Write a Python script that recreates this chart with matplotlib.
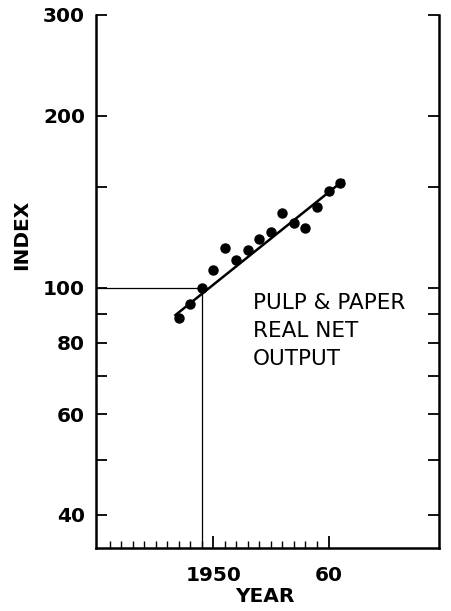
import matplotlib
matplotlib.use("Agg")
import matplotlib.pyplot as plt
from matplotlib.ticker import FixedLocator, NullFormatter, NullLocator

# ---- data ----
years = [1947, 1948, 1949, 1950, 1951, 1952, 1953, 1954, 1955, 1956, 1957, 1958, 1959, 1960, 1961]
index_values = [88.4, 93.6, 100.0, 107.5, 117.5, 111.8, 116.4, 121.7, 125.2, 135.1, 129.8, 126.9, 138.2, 147.3, 152.3]
trend_years = [1946.7, 1961.3]
trend_values = [89.5, 154.0]
base_year = 1949
base_value = 100
ytick_values = [40, 50, 60, 70, 80, 90, 100, 150, 200, 300]
ytick_labels = ["40", "", "60", "", "80", "", "100", "", "200", "300"]
xtick_major = [1950, 1960]
xtick_major_labels = ["1950", "60"]
xtick_minor = list(range(1941, 1961))
annotation = "PULP & PAPER\nREAL NET\nOUTPUT"

W, H = 452, 611
fig = plt.figure(figsize=(W / 100, H / 100), dpi=100)
ax = fig.add_axes([96 / W, 1 - 548 / H, (439 - 96) / W, (548 - 15) / H])

ax.set_yscale("log")
ax.set_ylim(35, 300)
ax.set_xlim(1939.8, 1969.6)

# spines
ax.spines["top"].set_visible(False)
for s in ["left", "right", "bottom"]:
    ax.spines[s].set_linewidth(1.8)
    ax.spines[s].set_color("black")

# y ticks
ax.yaxis.set_major_locator(FixedLocator(ytick_values))
ax.yaxis.set_minor_locator(NullLocator())
ax.set_yticklabels(ytick_labels)
ax.tick_params(axis="y", which="major", direction="in", length=8, width=1.3,
               left=True, right=True, labelleft=True, labelright=False, pad=8,
               labelsize=14.5)

# x ticks
ax.set_xticks(xtick_major)
ax.set_xticklabels(xtick_major_labels)
ax.xaxis.set_minor_locator(FixedLocator([y for y in xtick_minor if y not in xtick_major]))
ax.xaxis.set_minor_formatter(NullFormatter())
ax.tick_params(axis="x", which="major", direction="in", length=9, width=1.3, pad=13,
               labelsize=14.5, top=False)
ax.tick_params(axis="x", which="minor", direction="in", length=5, width=1.0, top=False)

for lab in ax.get_xticklabels() + ax.get_yticklabels():
    lab.set_fontweight("bold")

# reference lines at base year
ax.plot([ax.get_xlim()[0], base_year], [base_value, base_value], color="black", lw=0.9,
        solid_capstyle="butt")
ax.plot([base_year, base_year], [ax.get_ylim()[0], base_value], color="black", lw=0.9,
        solid_capstyle="butt")

# trend line and points
ax.plot(trend_years, trend_values, color="black", lw=1.8)
ax.plot(years, index_values, "o", color="black", ms=6.5, mec="black")

ax.text(1953.4, 98.0, annotation, ha="left", va="top", fontsize=15.5, linespacing=1.5,
        color="black")

fig.text(22 / W, 1 - 235 / H, "INDEX", rotation=90, ha="center", va="center",
         fontsize=14.5, fontweight="bold")
fig.text(265 / W, 1 - 597 / H, "YEAR", ha="center", va="center",
         fontsize=14.5, fontweight="bold")

fig.savefig("out.png", dpi=100)
